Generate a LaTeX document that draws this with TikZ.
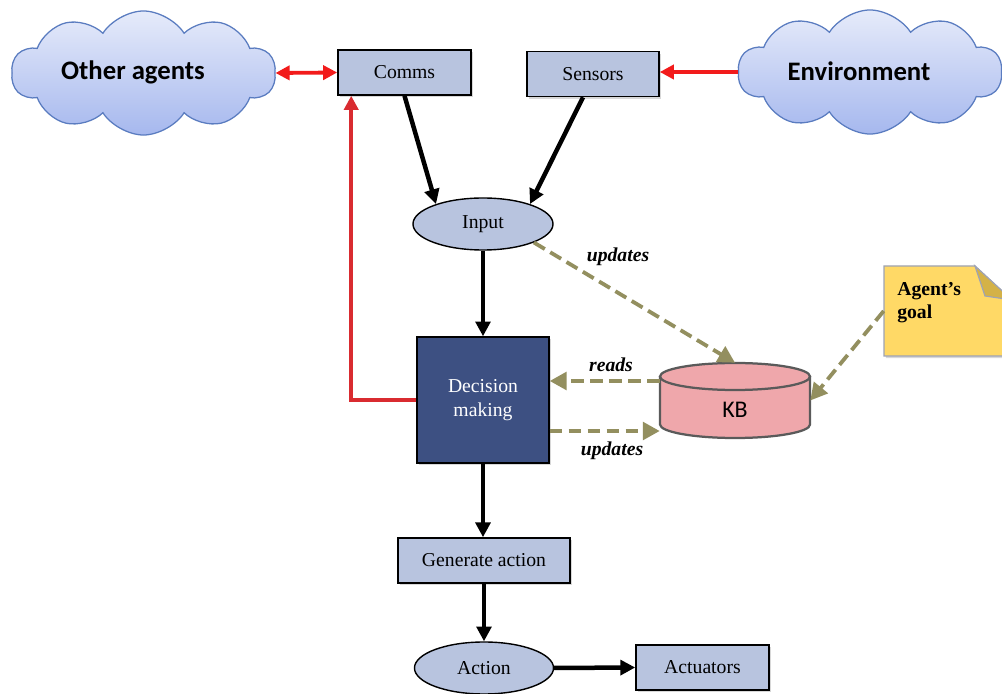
\documentclass[tikz,border=0pt]{standalone}
\usepackage{fontspec}
\setmainfont{Liberation Serif}
\newfontfamily\cloudfont{Carlito}
\usetikzlibrary{shapes.geometric,shapes.symbols,arrows.meta,shadows,calc}

\definecolor{boxblue}{HTML}{B8C4DF}
\definecolor{deepblue}{HTML}{3D5082}
\definecolor{cloudtop}{HTML}{E6EBFA}
\definecolor{cloudbot}{HTML}{A6B8EE}
\definecolor{cloudline}{HTML}{5A7CC0}
\definecolor{linkred}{HTML}{F21B1B}
\definecolor{feedred}{HTML}{D92B30}
\definecolor{olive}{HTML}{938F5F}
\definecolor{kbpink}{HTML}{EFA7AB}
\definecolor{kbline}{HTML}{5A5A5A}
\definecolor{noteyellow}{HTML}{FFD966}
\definecolor{notefold}{HTML}{D4B247}
\definecolor{noteline}{HTML}{9EA3B5}

\tikzset{
  txt/.style={font=\fontsize{14}{17}\selectfont},
  box/.style={txt, draw=black, line width=1.1pt, fill=boxblue, minimum height=1.125cm,
    inner sep=0pt, drop shadow={shadow xshift=1.3pt, shadow yshift=-1.6pt, opacity=0.3}},
  oval/.style={txt, ellipse, draw=black, line width=1pt, fill=boxblue,
    minimum width=3.5cm, minimum height=1.3cm, inner sep=0pt},
  cloudnode/.style={cloud, cloud puffs=10, cloud puff arc=115, aspect=2.1,
    minimum width=6.6cm, minimum height=3.1cm, inner sep=0pt,
    top color=cloudtop, bottom color=cloudbot, draw=cloudline, line width=0.9pt},
  cloudtext/.style={font=\cloudfont\bfseries\fontsize{19}{22}\selectfont, inner sep=0pt},
  flow/.style={line width=3.2pt, -{Triangle[length=10.5pt,width=10.5pt]}},
  redlink/.style={draw=linkred, line width=2.7pt},
  redtip/.tip={Triangle[length=10pt,width=10pt]},
  dashlink/.style={draw=olive, line width=2.7pt, dash pattern=on 9pt off 4.5pt,
    -{Triangle[length=12pt,width=12.5pt,fill=olive]}},
  lbl/.style={font=\fontsize{14}{17}\selectfont\bfseries\itshape, inner sep=0pt}
}

\begin{document}
\begin{tikzpicture}[x=0.025cm, y=0.025cm]
\useasboundingbox (0,0) rectangle (1002,-694);
\clip (0,0) rectangle (1002,-694);
\fill[white] (0,0) rectangle (1002,-694);

% clouds at the top corners
\node[cloudnode] (others) at (143.5,-73) {};
\node[cloudtext] (otherstext) at (133,-72) {Other agents};
\node[cloudnode] (env) at (870,-72) {};
\node[cloudtext] (envtext) at (859,-71) {Environment};

% perception boxes
\node[box, minimum width=3.325cm] (comms) at (404.5,-72.5) {Comms};
\node[box, minimum width=3.3cm] (sensors) at (593,-74) {Sensors};

% central column
\node[oval] (input) at (483,-224) {Input};
\node[txt, draw=black, line width=1pt, fill=deepblue, text=white, align=center,
      minimum width=3.3cm, minimum height=3.15cm, inner sep=0pt,
      drop shadow={shadow xshift=1.3pt, shadow yshift=-1.6pt, opacity=0.3}] (dec) at (483,-400) {Decision\\making};
\node[box, minimum width=4.3cm] (gen) at (484,-560.5) {Generate action};
\node[oval, minimum width=3.475cm] (action) at (484,-668) {Action};
\node[box, minimum width=3.325cm] (act) at (702.5,-667.5) {Actuators};

% knowledge base cylinder
\fill[kbpink] (660,-376.5) -- (660,-424.5)
  arc[start angle=180, end angle=360, x radius=1.875cm, y radius=0.3375cm]
  -- (810,-376.5)
  arc[start angle=0, end angle=180, x radius=1.875cm, y radius=0.3375cm] -- cycle;
\draw[kbline, line width=1.6pt] (660,-376.5) -- (660,-424.5)
  arc[start angle=180, end angle=360, x radius=1.875cm, y radius=0.3375cm]
  -- (810,-376.5);
\draw[kbline, line width=1.6pt] (735,-376.5) ellipse[x radius=1.875cm, y radius=0.3375cm];
\node[minimum width=3.75cm, minimum height=1.875cm, inner sep=0pt] (kb) at (735,-400.5) {};
\node[font=\cloudfont\fontsize{17}{20}\selectfont, inner sep=0pt] (kbtext) at (735,-410) {KB};

% sticky note with the goal
\filldraw[fill=noteyellow, draw=noteline, line width=0.8pt,
  drop shadow={shadow xshift=1.3pt, shadow yshift=-1.6pt, opacity=0.3}]
  (884,-266) -- (975,-266) -- (1012,-300) -- (1012,-356) -- (884,-356) -- cycle;
\filldraw[fill=notefold, draw=noteline, line width=0.8pt]
  (975,-266) -- (985,-296) -- (1012,-300) -- cycle;
\node[minimum width=3.2cm, minimum height=2.25cm, inner sep=0pt] (goal) at (948,-311) {};
\node[anchor=north west, align=left, inner sep=0pt,
      font=\fontsize{14}{16.5}\selectfont\bfseries] (goaltext) at (897,-282) {Agent’s\\goal};

% communication links
\draw[redlink, {redtip}-{redtip}] (others.east) -- (comms.west);
\draw[redlink, -{redtip}] (env.west) -- (env.west -| sensors.east);
\draw[draw=feedred, line width=2.8pt, -{Triangle[length=10pt,width=10pt]}]
  (dec.west) -| ([xshift=0.35cm]comms.south west);

% main flow
\draw[flow] (comms.south) -- (input.157);
\draw[flow] ([xshift=-0.25cm]sensors.south) -- (input.23);
\draw[flow] (input.south) -- (dec.north);
\draw[flow] (dec.south) -- (dec.south |- gen.north);
\draw[flow] (gen.south) -- (action.north);
\draw[flow] (action.east) -- (act.west);

% knowledge base traffic
\draw[dashlink] (input.-20) -- (kb.north);
\draw[dashlink] ([yshift=0.4875cm]kb.west) -- ([yshift=0.4875cm]kb.west -| dec.east);
\draw[dashlink] ([yshift=-0.7625cm]kb.west -| dec.east) -- ([yshift=-0.7625cm]kb.west);
\draw[dashlink] (goal.west) -- (kb.east);

\node[lbl] (updin) at (618,-257) {updates};
\node[lbl] (reads) at (611,-365) {reads};
\node[lbl] (updout) at (612,-451) {updates};
\end{tikzpicture}
\end{document}
